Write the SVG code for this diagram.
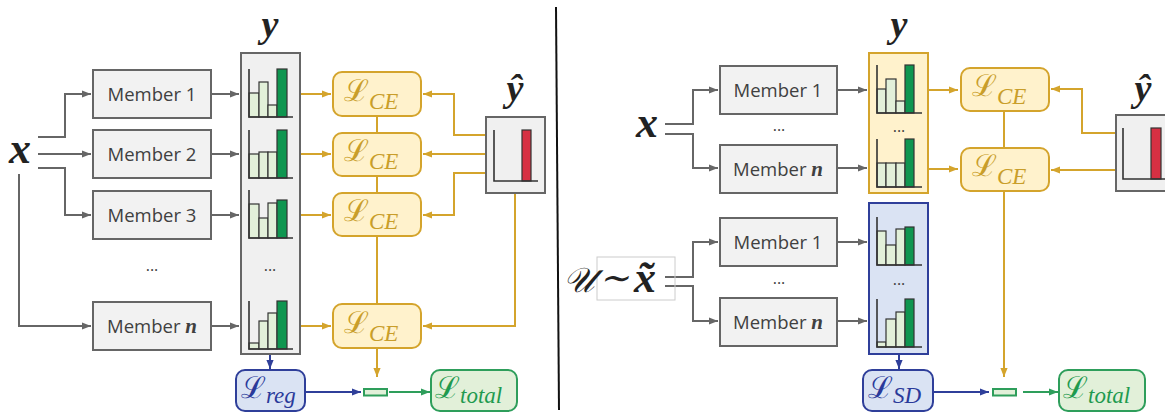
<svg xmlns="http://www.w3.org/2000/svg" width="1165" height="413" viewBox="0 0 1165 413">
<style>
.mem{fill:#f2f2f2;stroke:#666;stroke-width:2}
.mt{font-family:"Open Sans",sans-serif;font-size:18.5px;fill:#404040;text-anchor:middle}
.mn{font-family:"Liberation Serif",serif;font-style:italic;font-weight:bold;font-size:21px}
.dots{font-family:"Open Sans",sans-serif;font-size:16px;fill:#404040;text-anchor:middle}
.col{fill:#f0f0f0;stroke:#666;stroke-width:2}
.colY{fill:#fff2cc;stroke:#d4a42c;stroke-width:2}
.colB{fill:#dae3f3;stroke:#2f3f9a;stroke-width:2}
.ce{fill:#fff2cc;stroke:#d4a42c;stroke-width:2}
.reg{fill:#dae3f3;stroke:#2f3f9a;stroke-width:2}
.tot{fill:#e2f0d9;stroke:#2e9e5b;stroke-width:2}
.L{font-family:"DejaVu Serif",serif;font-style:normal;font-size:30px}
.sub{font-family:"Liberation Serif",serif;font-style:italic;font-size:23px}
.gold{fill:#c99e2a}
.blue{fill:#2a3a9a}
.grn{fill:#1f9a4f}
.math{font-family:"Liberation Serif",serif;font-style:italic;font-weight:bold;fill:#222}
.mathr{font-family:"Liberation Serif",serif;font-style:italic;font-weight:normal;fill:#222}
.lb{fill:#e2f0d9;stroke:#333;stroke-width:1.2}
.db{fill:#0f9650;stroke:#333;stroke-width:1.2}
.ax{fill:none;stroke:#333;stroke-width:1.6}
.cg{fill:none;stroke:#666;stroke-width:2}
.cy{fill:none;stroke:#d4a42c;stroke-width:2}
.cb{fill:none;stroke:#2f3f9a;stroke-width:2}
.cn{fill:none;stroke:#2e9e5b;stroke-width:2}
</style>
<defs>
<marker id="mg" viewBox="0 0 10 10" refX="10" refY="5" markerWidth="9" markerHeight="9" markerUnits="userSpaceOnUse" orient="auto"><path d="M0,1 L10,5 L0,9 z" fill="#666"/></marker>
<marker id="my" viewBox="0 0 10 10" refX="10" refY="5" markerWidth="9" markerHeight="9" markerUnits="userSpaceOnUse" orient="auto"><path d="M0,1 L10,5 L0,9 z" fill="#d4a42c"/></marker>
<marker id="mb" viewBox="0 0 10 10" refX="10" refY="5" markerWidth="9" markerHeight="9" markerUnits="userSpaceOnUse" orient="auto"><path d="M0,1 L10,5 L0,9 z" fill="#2f3f9a"/></marker>
<marker id="mn" viewBox="0 0 10 10" refX="10" refY="5" markerWidth="9" markerHeight="9" markerUnits="userSpaceOnUse" orient="auto"><path d="M0,1 L10,5 L0,9 z" fill="#2e9e5b"/></marker>
</defs>
<rect width="1165" height="413" fill="#fff"/>

<!-- divider -->
<line x1="556" y1="7" x2="559" y2="410" stroke="#111" stroke-width="2"/>

<!-- connectors -->
<g id="connectors">
<path class="cg" marker-end="url(#mg)" d="M38,137 H65 V94 H91"/>
<path class="cg" marker-end="url(#mg)" d="M38,154 H91"/>
<path class="cg" marker-end="url(#mg)" d="M38,168 H65 V215 H91"/>
<path class="cg" marker-end="url(#mg)" d="M19,174 V326 H91"/>
<path class="cg" marker-end="url(#mg)" d="M211,94 H239"/>
<path class="cg" marker-end="url(#mg)" d="M211,154 H239"/>
<path class="cg" marker-end="url(#mg)" d="M211,215 H239"/>
<path class="cg" marker-end="url(#mg)" d="M211,326 H239"/>
<path class="cy" marker-end="url(#my)" d="M301,94 H331"/>
<path class="cy" marker-end="url(#my)" d="M301,154 H331"/>
<path class="cy" marker-end="url(#my)" d="M301,215 H331"/>
<path class="cy" marker-end="url(#my)" d="M301,326 H331"/>
<path class="cy" d="M377,116 V133 M377,176 V193 M377,236 V304"/>
<path class="cy" marker-end="url(#my)" d="M377,348 V377"/>
<path class="cy" marker-end="url(#my)" d="M486,135 H454 V94 H423"/>
<path class="cy" marker-end="url(#my)" d="M486,154 H423"/>
<path class="cy" marker-end="url(#my)" d="M486,173 H454 V215 H423"/>
<path class="cy" marker-end="url(#my)" d="M515,193 V326 H423"/>
<path class="cb" marker-end="url(#mb)" d="M270,355 V369"/>
<path class="cb" marker-end="url(#mb)" d="M305,392 H361"/>
<path class="cn" marker-end="url(#mn)" d="M389,392 H430"/>

<path class="cg" marker-end="url(#mg)" d="M665,124 H693 V90 H718"/>
<path class="cg" marker-end="url(#mg)" d="M665,134 H693 V168 H718"/>
<path class="cg" marker-end="url(#mg)" d="M838,90 H867"/>
<path class="cg" marker-end="url(#mg)" d="M838,168 H867"/>
<path class="cg" marker-end="url(#mg)" d="M665,277 H693 V242 H718"/>
<path class="cg" marker-end="url(#mg)" d="M665,286 H693 V321 H718"/>
<path class="cg" marker-end="url(#mg)" d="M838,242 H867"/>
<path class="cg" marker-end="url(#mg)" d="M838,321 H867"/>
<path class="cy" marker-end="url(#my)" d="M929,90 H958"/>
<path class="cy" marker-end="url(#my)" d="M929,169 H958"/>
<path class="cy" d="M1004,111 V148"/>
<path class="cy" marker-end="url(#my)" d="M1004,191 V377"/>
<path class="cy" marker-end="url(#my)" d="M1116,133 H1082 V89 H1051"/>
<path class="cy" marker-end="url(#my)" d="M1116,170 H1051"/>
<path class="cb" marker-end="url(#mb)" d="M899,355 V369"/>
<path class="cb" marker-end="url(#mb)" d="M933,392 H989"/>
<path class="cn" marker-end="url(#mn)" d="M1023,392 H1058"/>
</g>

<!-- LEFT PANEL -->
<g id="x-left"><text class="math" x="20" y="163" font-size="44" text-anchor="middle">x</text></g>

<g id="member1"><rect class="mem" x="93" y="70" width="118" height="48"/><text class="mt" x="152" y="101">Member 1</text></g>
<g id="member2"><rect class="mem" x="93" y="130" width="118" height="48"/><text class="mt" x="152" y="161">Member 2</text></g>
<g id="member3"><rect class="mem" x="93" y="191" width="118" height="48"/><text class="mt" x="152" y="222">Member 3</text></g>
<g id="dots-left"><text class="dots" x="152" y="271">...</text></g>
<g id="membern"><rect class="mem" x="93" y="302" width="118" height="48"/><text class="mt" x="152" y="333">Member <tspan class="mn">n</tspan></text></g>

<g id="y-col-left">
<text class="math" x="270" y="37" font-size="38" text-anchor="middle">y</text>
<rect class="col" x="241" y="53" width="59" height="301"/>
<rect class="lb" x="249" y="93" width="10" height="24"/><rect class="lb" x="259" y="82" width="9" height="35"/><rect class="lb" x="268" y="105" width="9" height="12"/><rect class="db" x="277" y="69" width="10" height="48"/><path class="ax" d="M249,69 V117 H293"/>
<rect class="lb" x="249" y="154" width="10" height="24"/><rect class="lb" x="259" y="152" width="9" height="26"/><rect class="lb" x="268" y="152" width="9" height="26"/><rect class="db" x="277" y="130" width="10" height="48"/><path class="ax" d="M249,130 V178 H293"/>
<rect class="lb" x="249" y="204" width="10" height="34"/><rect class="lb" x="259" y="218" width="9" height="20"/><rect class="lb" x="268" y="203" width="9" height="35"/><rect class="db" x="277" y="200" width="10" height="38"/><path class="ax" d="M249,190 V238 H293"/>
<text class="dots" x="270" y="271">...</text>
<rect class="lb" x="249" y="343" width="10" height="6"/><rect class="lb" x="259" y="321" width="9" height="28"/><rect class="lb" x="268" y="313" width="9" height="36"/><rect class="db" x="277" y="301" width="10" height="48"/><path class="ax" d="M249,301 V349 H293"/>
</g>

<g id="lce1"><rect class="ce" x="333" y="72" width="88" height="44" rx="9"/><text class="gold" x="344" y="101"><tspan class="L">ℒ</tspan><tspan class="sub" dy="8">CE</tspan></text></g>
<g id="lce2"><rect class="ce" x="333" y="133" width="88" height="43" rx="9"/><text class="gold" x="344" y="161"><tspan class="L">ℒ</tspan><tspan class="sub" dy="8">CE</tspan></text></g>
<g id="lce3"><rect class="ce" x="333" y="193" width="88" height="43" rx="9"/><text class="gold" x="344" y="221"><tspan class="L">ℒ</tspan><tspan class="sub" dy="8">CE</tspan></text></g>
<g id="lce4"><rect class="ce" x="333" y="304" width="88" height="44" rx="9"/><text class="gold" x="344" y="333"><tspan class="L">ℒ</tspan><tspan class="sub" dy="8">CE</tspan></text></g>

<g id="yhat-left">
<text class="math" x="515" y="101" font-size="38" text-anchor="middle">ŷ</text>
<rect class="col" x="486" y="117" width="59" height="76"/>
<rect x="522" y="130" width="9" height="51" fill="#d63043" stroke="#333" stroke-width="1.2"/>
<path class="ax" d="M494,130 V181 H538"/>
</g>

<g id="lreg"><rect class="reg" x="236" y="370" width="69" height="41" rx="9"/><text class="blue" x="241" y="398"><tspan class="L">ℒ</tspan><tspan class="sub" dy="5">reg</tspan></text></g>
<g id="sum-left"><rect x="364" y="389" width="23" height="6.5" fill="#e2f0d9" stroke="#2e9e5b" stroke-width="2"/></g>
<g id="ltotal-left"><rect class="tot" x="431" y="370" width="86" height="41" rx="9"/><text class="grn" x="435" y="398"><tspan class="L">ℒ</tspan><tspan class="sub" dy="5">total</tspan></text></g>

<!-- RIGHT PANEL -->
<g id="x-right"><text class="math" x="647" y="137" font-size="44" text-anchor="middle">x</text></g>
<g id="r-member1"><rect class="mem" x="720" y="66" width="117" height="48"/><text class="mt" x="778" y="97">Member 1</text></g>
<g id="r-dots1"><text class="dots" x="779" y="131">...</text></g>
<g id="r-membern"><rect class="mem" x="720" y="145" width="117" height="48"/><text class="mt" x="778" y="176">Member <tspan class="mn">n</tspan></text></g>

<g id="y-col-right">
<text class="math" x="899" y="37" font-size="38" text-anchor="middle">y</text>
<rect class="colY" x="869" y="53" width="59" height="140"/>
<rect class="lb" x="877" y="89" width="9" height="24"/><rect class="lb" x="886" y="79" width="10" height="34"/><rect class="lb" x="896" y="101" width="9" height="12"/><rect class="db" x="905" y="65" width="9" height="48"/><path class="ax" d="M877,65 V113 H922"/>
<text class="dots" x="899" y="132">...</text>
<rect class="lb" x="877" y="163" width="9" height="24"/><rect class="lb" x="886" y="163" width="10" height="24"/><rect class="lb" x="896" y="163" width="9" height="24"/><rect class="db" x="905" y="139" width="9" height="48"/><path class="ax" d="M877,139 V187 H922"/>
</g>

<g id="r-lce1"><rect class="ce" x="961" y="68" width="88" height="43" rx="9"/><text class="gold" x="972" y="96"><tspan class="L">ℒ</tspan><tspan class="sub" dy="8">CE</tspan></text></g>
<g id="r-lce2"><rect class="ce" x="961" y="148" width="88" height="43" rx="9"/><text class="gold" x="972" y="176"><tspan class="L">ℒ</tspan><tspan class="sub" dy="8">CE</tspan></text></g>

<g id="yhat-right">
<text class="math" x="1143" y="101" font-size="38" text-anchor="middle">ŷ</text>
<rect class="col" x="1116" y="115" width="70" height="76"/>
<rect x="1151" y="128" width="10" height="51" fill="#d63043" stroke="#333" stroke-width="1.2"/>
<path class="ax" d="M1123,128 V179 H1170"/>
</g>

<g id="u-x">
<rect x="597" y="257" width="78" height="43" fill="none" stroke="#ccc" stroke-width="1"/>
<text class="mathr" x="563" y="292" font-size="35">𝒰</text>
<text class="mathr" x="614" y="290" font-size="36" text-anchor="middle">∼</text>
<text class="math" x="645" y="292" font-size="44" text-anchor="middle">x̃</text>
</g>
<g id="r-member1b"><rect class="mem" x="720" y="218" width="117" height="48"/><text class="mt" x="778" y="249">Member 1</text></g>
<g id="r-dots2"><text class="dots" x="779" y="284">...</text></g>
<g id="r-membernb"><rect class="mem" x="720" y="298" width="117" height="48"/><text class="mt" x="778" y="329">Member <tspan class="mn">n</tspan></text></g>

<g id="b-col-right">
<rect class="colB" x="869" y="203" width="59" height="151"/>
<rect class="lb" x="877" y="231" width="9" height="34"/><rect class="lb" x="886" y="245" width="10" height="20"/><rect class="lb" x="896" y="229" width="9" height="36"/><rect class="db" x="905" y="227" width="9" height="38"/><path class="ax" d="M877,217 V265 H922"/>
<text class="dots" x="899" y="285">...</text>
<rect class="lb" x="877" y="342" width="9" height="5"/><rect class="lb" x="886" y="319" width="10" height="28"/><rect class="lb" x="896" y="312" width="9" height="35"/><rect class="db" x="905" y="299" width="9" height="48"/><path class="ax" d="M877,299 V347 H922"/>
</g>

<g id="lsd"><rect class="reg" x="863" y="370" width="70" height="41" rx="9"/><text class="blue" x="868" y="398"><tspan class="L">ℒ</tspan><tspan class="sub" dy="5">SD</tspan></text></g>
<g id="sum-right"><rect x="993" y="389" width="23" height="6.5" fill="#e2f0d9" stroke="#2e9e5b" stroke-width="2"/></g>
<g id="ltotal-right"><rect class="tot" x="1059" y="370" width="86" height="41" rx="9"/><text class="grn" x="1063" y="398"><tspan class="L">ℒ</tspan><tspan class="sub" dy="5">total</tspan></text></g>
</svg>
